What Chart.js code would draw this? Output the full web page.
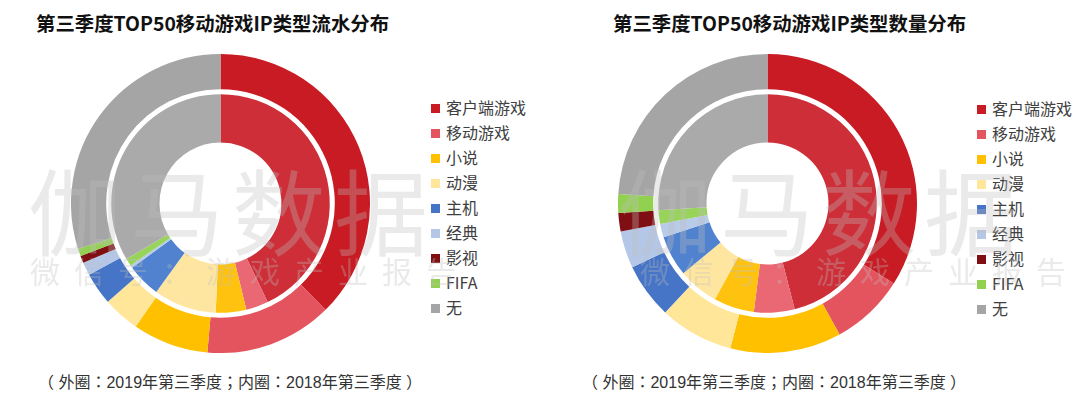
<!DOCTYPE html>
<html>
<head>
<meta charset="utf-8">
<script src="https://cdn.jsdelivr.net/npm/chart.js@4.4.1/dist/chart.umd.min.js"></script>
<style>
  body { margin: 0; width: 1080px; height: 393px; background: #fff; position: relative; overflow: hidden;
         font-family: "Noto Sans CJK SC", "Noto Sans", sans-serif; }
  .title { position: absolute; top: 8px; font-size: 19.4px; font-weight: bold; color: #111; white-space: nowrap; }
  .note { position: absolute; top: 369px; font-size: 16px; color: #333; white-space: nowrap;
          font-family: "Liberation Sans", "Noto Sans CJK TC", sans-serif; }
  .box { position: absolute; top: 54px; width: 299px; height: 299px; }
  .legend { position: absolute; font-size: 16px; color: #404040; }
  .legend div { height: 25px; line-height: 23px; white-space: nowrap; }
  .legend span { display: inline-block; width: 9px; height: 9px; margin-right: 6px; vertical-align: 1px; }
  .wm { position: absolute; color: rgba(190,190,190,0.32); white-space: nowrap; pointer-events: none; }
  .wm1 { font-size: 94px; letter-spacing: 8px; top: 140px; }
  .wm2 { font-size: 30px; letter-spacing: 14px; top: 248px; }
</style>
</head>
<body>
<div class="title" style="left:36px">第三季度TOP50移动游戏IP类型流水分布</div>
<div class="title" style="left:613px">第三季度TOP50移动游戏IP类型数量分布</div>

<div class="box" style="left:71px"><canvas id="c1" width="299" height="299"></canvas></div>
<div class="box" style="left:618px"><canvas id="c2" width="299" height="299"></canvas></div>

<div class="legend" id="lg1" style="left:431px; top:96px"></div>
<div class="legend" id="lg2" style="left:977px; top:97px"></div>

<div class="note" style="left:38px">（ 外圈：2019年第三季度；内圈：2018年第三季度 ）</div>
<div class="note" style="left:582px">（ 外圈：2019年第三季度；内圈：2018年第三季度 ）</div>

<div class="wm wm1" style="left:28px">伽马数据</div>
<div class="wm wm2" style="left:30px">微信号：游戏产业报告</div>
<div class="wm wm1" style="left:618px">伽马数据</div>
<div class="wm wm2" style="left:640px">微信号：游戏产业报告</div>

<script>
const categories = ['客户端游戏', '移动游戏', '小说', '动漫', '主机', '经典', '影视', 'FIFA', '无'];

// 流水占比 (%)
const revenue2019 = [37.6, 13.8, 8.2, 4.0, 3.5, 1.4, 0.8, 0.8, 29.9];
const revenue2018 = [42.9, 3.3, 4.5, 9.3, 5.0, 0.4, 0, 1.1, 33.5];

// 数量 (TOP50)
const count2019 = [17, 4, 6, 4, 3, 2, 1, 1, 12];
const count2018 = [23, 3, 3, 3, 3, 1, 0, 1, 13];

const outerColors = ['#c81b24', '#e4545e', '#ffc000', '#ffe699', '#4674c6', '#b4c7e7', '#7f0f12', '#92d050', '#a5a5a5'];
const innerColors = ['#cd2e38', '#ea6873', '#ffc20e', '#ffe6a0', '#5082cf', '#b8cbe9', '#7f0f12', '#98d45a', '#aaaaaa'];

function ring(data, colors, weight) {
    return { data: data, backgroundColor: colors, borderWidth: 0, weight: weight };
}

function makeChart(id, outer, inner) {
    new Chart(document.getElementById(id), {
        type: 'doughnut',
        data: {
            labels: categories,
            datasets: [
                ring(outer, outerColors, 35),
                // white gap between the two rings
                { data: [1], backgroundColor: ['rgba(255,255,255,0)'], borderWidth: 0, weight: 5 },
                ring(inner, innerColors, 48)
            ]
        },
        options: {
            responsive: false,
            animation: false,
            events: [],
            cutout: 61,
            layout: { padding: 0 },
            plugins: {
                legend: { display: false },
                tooltip: { enabled: false }
            }
        }
    });
}

makeChart('c1', revenue2019, revenue2018);
makeChart('c2', count2019, count2018);

function makeLegend(id) {
    const el = document.getElementById(id);
    categories.forEach((name, i) => {
        const row = document.createElement('div');
        const sw = document.createElement('span');
        sw.style.background = outerColors[i];
        row.appendChild(sw);
        row.appendChild(document.createTextNode(name));
        el.appendChild(row);
    });
}
makeLegend('lg1');
makeLegend('lg2');
</script>
</body>
</html>
